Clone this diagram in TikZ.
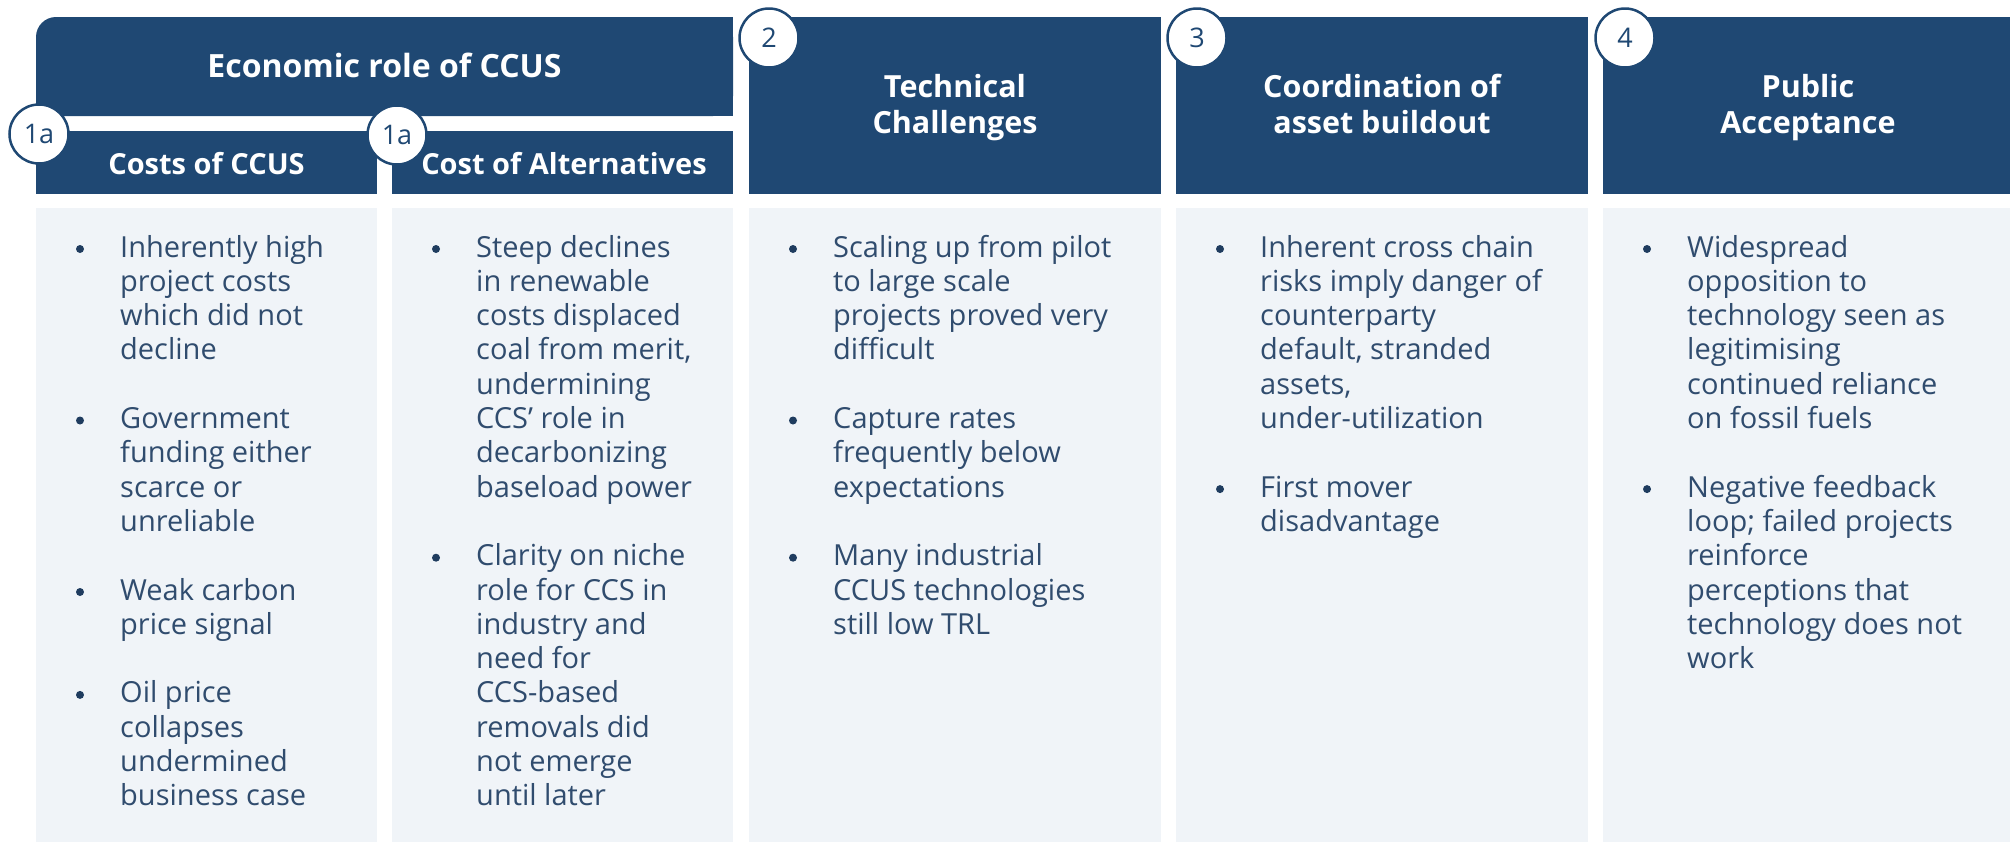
\documentclass[tikz,border=0pt]{standalone}
\usepackage{fontspec}
\setmainfont{Open Sans}
\definecolor{navy}{RGB}{31,72,115}
\definecolor{panel}{RGB}{240,244,248}
\definecolor{bodytext}{RGB}{48,76,110}
\definecolor{bulletc}{RGB}{31,60,95}
\begin{document}
\begin{tikzpicture}[x=1pt,y=-1pt,
  hdrbox/.style={rectangle, fill=navy, inner sep=0pt, anchor=north west},
  panelbox/.style={rectangle, fill=panel, inner sep=0pt, anchor=north west, minimum height=640pt},
  htext/.style={text=white, align=center, anchor=base, inner sep=0pt, font=\fontsize{30.5}{36}\selectfont\bfseries},
  subtext/.style={text=white, anchor=base, inner sep=0pt, font=\fontsize{29}{34}\selectfont\bfseries},
  badge/.style={circle, draw=navy, line width=2.5pt, fill=white, minimum size=59pt, inner sep=0pt, text=navy, font=\fontsize{27}{32}\selectfont},
  item/.style={anchor=base west, align=left, inner sep=0pt, text=bodytext, font=\fontsize{29}{34.3}\selectfont},
  dot/.style={circle, fill=bulletc, inner sep=0pt, minimum size=8pt}
]
\useasboundingbox (0,0) rectangle (2010,841);
\fill[white] (0,0) rectangle (2010,841);

% panels
\node[panelbox, minimum width=341pt] (p1) at (36,208) {};
\node[panelbox, minimum width=341pt] (p2) at (392,208) {};
\node[panelbox, minimum width=412pt] (p3) at (749,208) {};
\node[panelbox, minimum width=412pt] (p4) at (1176,208) {};
\node[panelbox, minimum width=420pt] (p5) at (1603,208) {};

% economic header with rounded top-left corner
\fill[navy, rounded corners=20pt] (36,17) rectangle (733,116);
\fill[navy] (70,17) rectangle (733,116);
\fill[navy] (36,50) rectangle (733,116);
\node[htext, font=\fontsize{32}{36}\selectfont\bfseries] (econ) at (384.5,77) {Economic role of CCUS};

% sub headers
\node[hdrbox, minimum width=341pt, minimum height=63pt] (s1) at (36,131) {};
\node[hdrbox, minimum width=341pt, minimum height=63pt] (s2) at (392,131) {};
\node[subtext] (s1t) at (206.5,174) {Costs of CCUS};
\node[subtext] (s2t) at (564,174) {Cost of Alternatives};

% column headers (anchored at baseline of last line)
\node[hdrbox, minimum width=412pt, minimum height=177pt] (h2) at (749,17) {};
\node[hdrbox, minimum width=412pt, minimum height=177pt] (h3) at (1176,17) {};
\node[hdrbox, minimum width=420pt, minimum height=177pt] (h4) at (1603,17) {};
\node[htext] (h2t) at (955,133) {Technical\\Challenges};
\node[htext] (h3t) at (1382,133) {Coordination of\\asset buildout};
\node[htext] (h4t) at (1808,133) {Public\\Acceptance};

% badges
\node[badge] (b1) at (39,134) {1a};
\node[badge] (b2) at (397,135) {1a};
\node[badge] (b3) at (769,38) {2};
\node[badge] (b4) at (1197,38) {3};
\node[badge] (b5) at (1625,38) {4};

% column 1 (items anchored at baseline of their last line)
\node[dot] (d11) at (80,249) {};
\node[item] (t11) at (120,359.9) {Inherently high\\project costs\\which did not\\decline};
\node[dot] (d12) at (80,420.5) {};
\node[item] (t12) at (120,531.4) {Government\\funding either\\scarce or\\unreliable};
\node[dot] (d13) at (80,592) {};
\node[item] (t13) at (120,634.3) {Weak carbon\\price signal};
\node[dot] (d14) at (80,694.9) {};
\node[item] (t14) at (120,805.8) {Oil price\\collapses\\undermined\\business case};

% column 2
\node[dot] (d21) at (436,249) {};
\node[item] (t21) at (476,497.1) {Steep declines\\in renewable\\costs displaced\\coal from merit,\\undermining\\CCS' role in\\decarbonizing\\baseload power};
\node[dot] (d22) at (436,557.7) {};
\node[item] (t22) at (476,805.8) {Clarity on niche\\role for CCS in\\industry and\\need for\\CCS-based\\removals did\\not emerge\\until later};

% column 3
\node[dot] (d31) at (793,249) {};
\node[item] (t31) at (833,359.9) {Scaling up from pilot\\to large scale\\projects proved very\\difficult};
\node[dot] (d32) at (793,420.5) {};
\node[item] (t32) at (833,497.1) {Capture rates\\frequently below\\expectations};
\node[dot] (d33) at (793,557.7) {};
\node[item] (t33) at (833,634.3) {Many industrial\\CCUS technologies\\still low TRL};

% column 4
\node[dot] (d41) at (1220,249) {};
\node[item] (t41) at (1260,428.5) {Inherent cross chain\\risks imply danger of\\counterparty\\default, stranded\\assets,\\under-utilization};
\node[dot] (d42) at (1220,489.1) {};
\node[item] (t42) at (1260,531.4) {First mover\\disadvantage};

% column 5
\node[dot] (d51) at (1647,249) {};
\node[item] (t51) at (1687,428.5) {Widespread\\opposition to\\technology seen as\\legitimising\\continued reliance\\on fossil fuels};
\node[dot] (d52) at (1647,489.1) {};
\node[item] (t52) at (1687,668.6) {Negative feedback\\loop; failed projects\\reinforce\\perceptions that\\technology does not\\work};
\end{tikzpicture}
\end{document}
